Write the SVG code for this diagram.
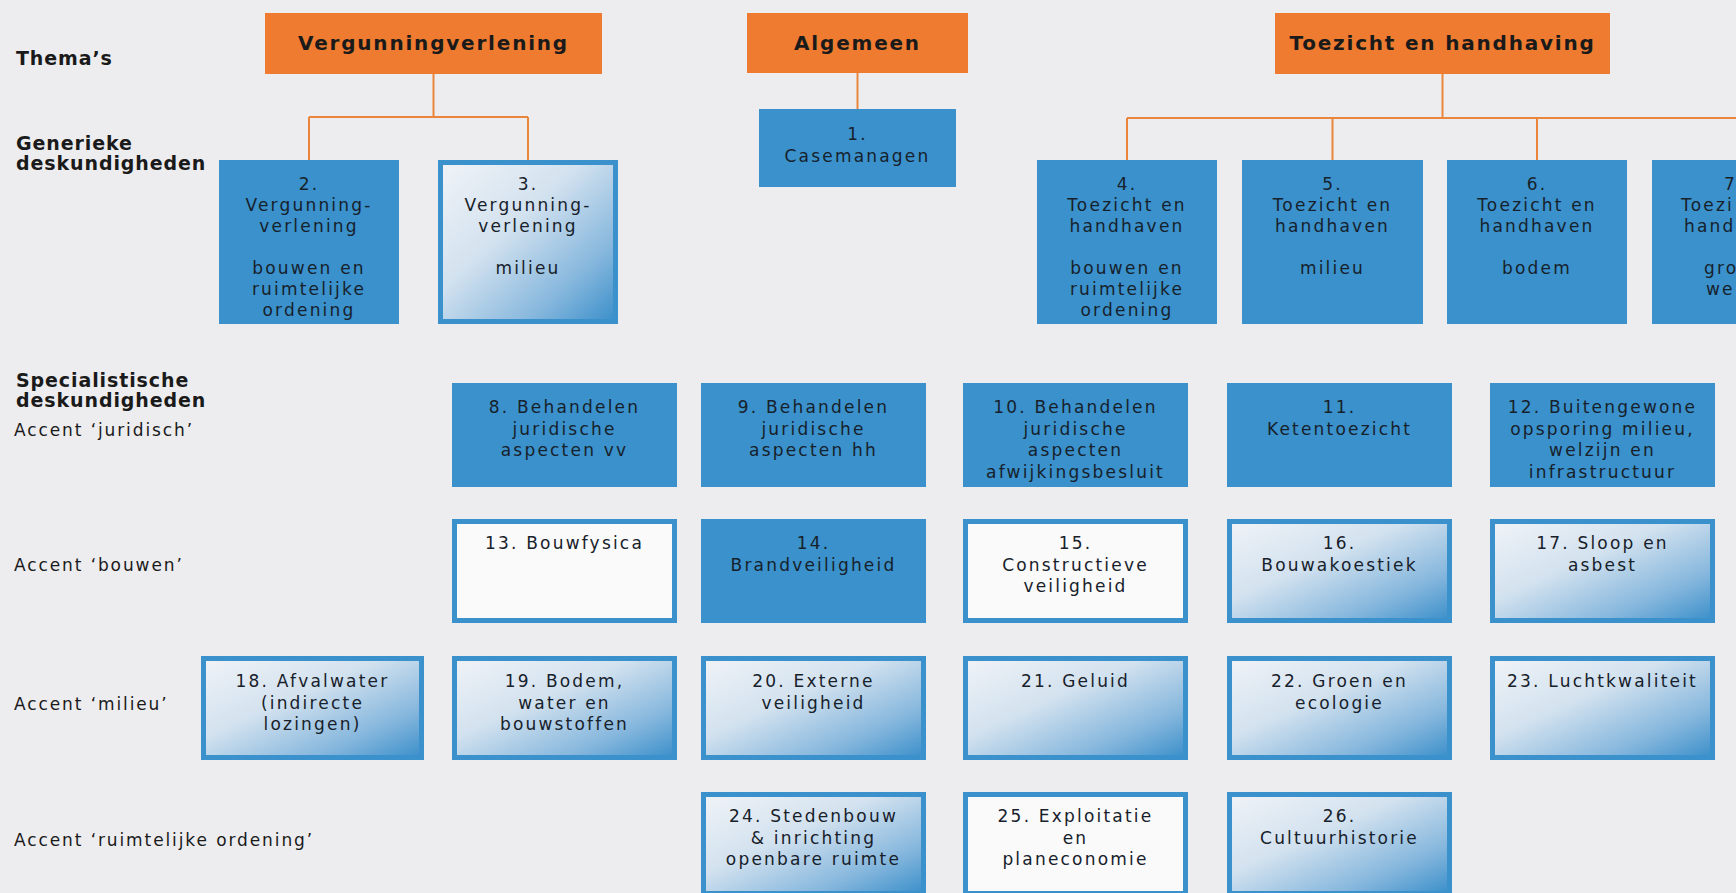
<svg xmlns="http://www.w3.org/2000/svg" width="1736" height="893" viewBox="0 0 1736 893">
<style>
.bg{fill:#EDEDEF}
.org{fill:#EE7B30}
.solid{fill:#3A91CB}
.grad{fill:url(#gb);stroke:#3A91CB;stroke-width:5}
.white{fill:#FAFAFA;stroke:#3A91CB;stroke-width:5}
.cn{stroke:#E9863C;stroke-width:2;fill:none}
.t{font-family:"DejaVu Sans",Verdana,sans-serif;font-size:17px;letter-spacing:2.2px;fill:#17212B;text-anchor:middle}
.ts{font-family:"DejaVu Sans",Verdana,sans-serif;font-size:17px;letter-spacing:2.2px;fill:#17212B;text-anchor:start}
.lb{font-family:"DejaVu Sans",Verdana,sans-serif;font-size:17px;letter-spacing:1.9px;fill:#1A1A1A}
.bl{font-family:"DejaVu Sans",Verdana,sans-serif;font-size:19px;font-weight:bold;letter-spacing:0.9px;fill:#1A1A1A}
.ot{font-family:"DejaVu Sans",Verdana,sans-serif;font-size:20px;font-weight:bold;letter-spacing:1.8px;fill:#1A1A1A;text-anchor:middle}
</style>
<defs>
<linearGradient id="gb" x1="0" y1="0" x2="1" y2="1">
<stop offset="0" stop-color="#F0F3F7"/>
<stop offset="0.4" stop-color="#D3E2EF"/>
<stop offset="0.75" stop-color="#86B7DD"/>
<stop offset="1" stop-color="#3A8FCA"/>
</linearGradient>
</defs>
<rect class="bg" x="0" y="0" width="1736" height="893"/>

<g id="labels">
<text class="bl" x="16" y="65">Thema’s</text>
<text class="bl" x="16" y="150">Generieke</text>
<text class="bl" x="16" y="170">deskundigheden</text>
<text class="bl" x="16" y="387">Specialistische</text>
<text class="bl" x="16" y="407">deskundigheden</text>
<text class="lb" x="14" y="436">Accent ‘juridisch’</text>
<text class="lb" x="14" y="571">Accent ‘bouwen’</text>
<text class="lb" x="14" y="710">Accent ‘milieu’</text>
<text class="lb" x="14" y="846">Accent ‘ruimtelijke ordening’</text>
</g>

<g id="connectors">
<path class="cn" d="M433.5,74 V117 M309,117 H528 M309,117 V160 M528,117 V160"/>
<path class="cn" d="M857.5,73 V109"/>
<path class="cn" d="M1442.5,74 V118 M1127,118 H1736 M1127,118 V160 M1332.5,118 V160 M1537,118 V160"/>
</g>

<g id="thema-vergunningverlening">
<rect class="org" x="265" y="13" width="337" height="61"/>
<text class="ot" x="433.5" y="50">Vergunningverlening</text>
</g>
<g id="thema-algemeen">
<rect class="org" x="747" y="13" width="221" height="60"/>
<text class="ot" x="857.5" y="50">Algemeen</text>
</g>
<g id="thema-toezicht">
<rect class="org" x="1275" y="13" width="335" height="61"/>
<text class="ot" x="1442.5" y="50">Toezicht en handhaving</text>
</g>

<g id="n1">
<rect class="solid" x="759" y="109" width="197" height="78"/>
<text class="t" x="857.5" y="140">1.</text>
<text class="t" x="857.5" y="162">Casemanagen</text>
</g>
<g id="n2">
<rect class="solid" x="219" y="160" width="180" height="164"/>
<text class="t" x="309" y="190">2.</text>
<text class="t" x="309" y="211">Vergunning-</text>
<text class="t" x="309" y="232">verlening</text>
<text class="t" x="309" y="274">bouwen en</text>
<text class="t" x="309" y="295">ruimtelijke</text>
<text class="t" x="309" y="316">ordening</text>
</g>
<g id="n3">
<rect class="grad" x="440.5" y="162.5" width="175" height="159"/>
<text class="t" x="528" y="190">3.</text>
<text class="t" x="528" y="211">Vergunning-</text>
<text class="t" x="528" y="232">verlening</text>
<text class="t" x="528" y="274">milieu</text>
</g>
<g id="n4">
<rect class="solid" x="1037" y="160" width="180" height="164"/>
<text class="t" x="1127" y="190">4.</text>
<text class="t" x="1127" y="211">Toezicht en</text>
<text class="t" x="1127" y="232">handhaven</text>
<text class="t" x="1127" y="274">bouwen en</text>
<text class="t" x="1127" y="295">ruimtelijke</text>
<text class="t" x="1127" y="316">ordening</text>
</g>
<g id="n5">
<rect class="solid" x="1242" y="160" width="181" height="164"/>
<text class="t" x="1332.5" y="190">5.</text>
<text class="t" x="1332.5" y="211">Toezicht en</text>
<text class="t" x="1332.5" y="232">handhaven</text>
<text class="t" x="1332.5" y="274">milieu</text>
</g>
<g id="n6">
<rect class="solid" x="1447" y="160" width="180" height="164"/>
<text class="t" x="1537" y="190">6.</text>
<text class="t" x="1537" y="211">Toezicht en</text>
<text class="t" x="1537" y="232">handhaven</text>
<text class="t" x="1537" y="274">bodem</text>
</g>
<g id="n7">
<rect class="solid" x="1652" y="160" width="84" height="164"/>
<text class="ts" x="1724" y="190">7</text>
<text class="ts" x="1681" y="211">Toezi</text>
<text class="ts" x="1684" y="232">hand</text>
<text class="ts" x="1704" y="274">gro</text>
<text class="ts" x="1706" y="295">we</text>
</g>

<g id="n8">
<rect class="solid" x="452" y="383" width="225" height="104"/>
<text class="t" x="564.5" y="413">8. Behandelen</text>
<text class="t" x="564.5" y="434.5">juridische</text>
<text class="t" x="564.5" y="456">aspecten vv</text>
</g>
<g id="n9">
<rect class="solid" x="701" y="383" width="225" height="104"/>
<text class="t" x="813.5" y="413">9. Behandelen</text>
<text class="t" x="813.5" y="434.5">juridische</text>
<text class="t" x="813.5" y="456">aspecten hh</text>
</g>
<g id="n10">
<rect class="solid" x="963" y="383" width="225" height="104"/>
<text class="t" x="1075.5" y="413">10. Behandelen</text>
<text class="t" x="1075.5" y="434.5">juridische</text>
<text class="t" x="1075.5" y="456">aspecten</text>
<text class="t" x="1075.5" y="477.5">afwijkingsbesluit</text>
</g>
<g id="n11">
<rect class="solid" x="1227" y="383" width="225" height="104"/>
<text class="t" x="1339.5" y="413">11.</text>
<text class="t" x="1339.5" y="434.5">Ketentoezicht</text>
</g>
<g id="n12">
<rect class="solid" x="1490" y="383" width="225" height="104"/>
<text class="t" x="1602.5" y="413">12. Buitengewone</text>
<text class="t" x="1602.5" y="434.5">opsporing milieu,</text>
<text class="t" x="1602.5" y="456">welzijn en</text>
<text class="t" x="1602.5" y="477.5">infrastructuur</text>
</g>

<g id="n13">
<rect class="white" x="454.5" y="521.5" width="220" height="99"/>
<text class="t" x="564.5" y="549">13. Bouwfysica</text>
</g>
<g id="n14">
<rect class="solid" x="701" y="519" width="225" height="104"/>
<text class="t" x="813.5" y="549">14.</text>
<text class="t" x="813.5" y="570.5">Brandveiligheid</text>
</g>
<g id="n15">
<rect class="white" x="965.5" y="521.5" width="220" height="99"/>
<text class="t" x="1075.5" y="549">15.</text>
<text class="t" x="1075.5" y="570.5">Constructieve</text>
<text class="t" x="1075.5" y="592">veiligheid</text>
</g>
<g id="n16">
<rect class="grad" x="1229.5" y="521.5" width="220" height="99"/>
<text class="t" x="1339.5" y="549">16.</text>
<text class="t" x="1339.5" y="570.5">Bouwakoestiek</text>
</g>
<g id="n17">
<rect class="grad" x="1492.5" y="521.5" width="220" height="99"/>
<text class="t" x="1602.5" y="549">17. Sloop en</text>
<text class="t" x="1602.5" y="570.5">asbest</text>
</g>

<g id="n18">
<rect class="grad" x="203.5" y="658.5" width="218" height="99"/>
<text class="t" x="312.5" y="687">18. Afvalwater</text>
<text class="t" x="312.5" y="708.5">(indirecte</text>
<text class="t" x="312.5" y="730">lozingen)</text>
</g>
<g id="n19">
<rect class="grad" x="454.5" y="658.5" width="220" height="99"/>
<text class="t" x="564.5" y="687">19. Bodem,</text>
<text class="t" x="564.5" y="708.5">water en</text>
<text class="t" x="564.5" y="730">bouwstoffen</text>
</g>
<g id="n20">
<rect class="grad" x="703.5" y="658.5" width="220" height="99"/>
<text class="t" x="813.5" y="687">20. Externe</text>
<text class="t" x="813.5" y="708.5">veiligheid</text>
</g>
<g id="n21">
<rect class="grad" x="965.5" y="658.5" width="220" height="99"/>
<text class="t" x="1075.5" y="687">21. Geluid</text>
</g>
<g id="n22">
<rect class="grad" x="1229.5" y="658.5" width="220" height="99"/>
<text class="t" x="1339.5" y="687">22. Groen en</text>
<text class="t" x="1339.5" y="708.5">ecologie</text>
</g>
<g id="n23">
<rect class="grad" x="1492.5" y="658.5" width="220" height="99"/>
<text class="t" x="1602.5" y="687">23. Luchtkwaliteit</text>
</g>

<g id="n24">
<rect class="grad" x="703.5" y="794.5" width="220" height="99"/>
<text class="t" x="813.5" y="822">24. Stedenbouw</text>
<text class="t" x="813.5" y="843.5">&amp; inrichting</text>
<text class="t" x="813.5" y="865">openbare ruimte</text>
</g>
<g id="n25">
<rect class="white" x="965.5" y="794.5" width="220" height="99"/>
<text class="t" x="1075.5" y="822">25. Exploitatie</text>
<text class="t" x="1075.5" y="843.5">en</text>
<text class="t" x="1075.5" y="865">planeconomie</text>
</g>
<g id="n26">
<rect class="grad" x="1229.5" y="794.5" width="220" height="99"/>
<text class="t" x="1339.5" y="822">26.</text>
<text class="t" x="1339.5" y="843.5">Cultuurhistorie</text>
</g>
</svg>
